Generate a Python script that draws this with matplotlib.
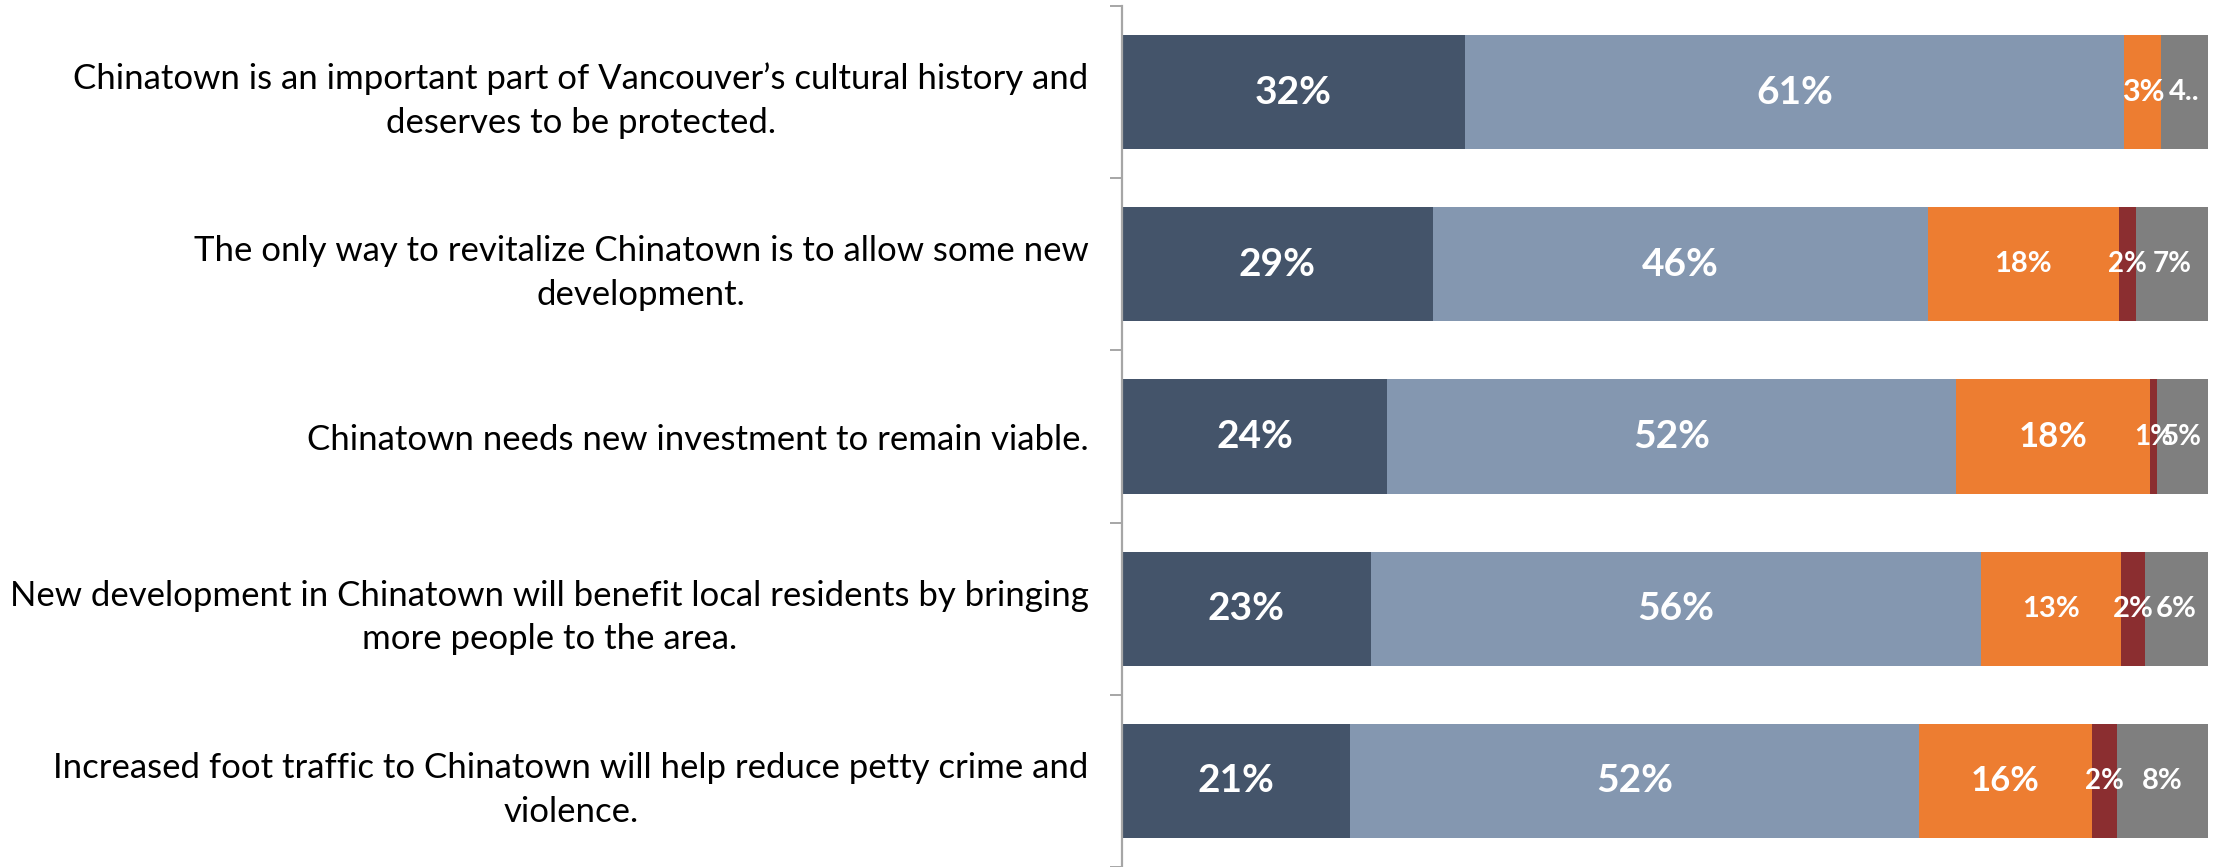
import matplotlib
matplotlib.use("Agg")
import matplotlib.pyplot as plt
import numpy as np

plt.rcParams['font.family'] = ['Lato', 'DejaVu Sans']

statements = [
    "Chinatown is an important part of Vancouver\u2019s cultural history and\ndeserves to be protected.",
    "The only way to revitalize Chinatown is to allow some new\ndevelopment.",
    "Chinatown needs new investment to remain viable.",
    "New development in Chinatown will benefit local residents by bringing\nmore people to the area.",
    "Increased foot traffic to Chinatown will help reduce petty crime and\nviolence.",
]

# shares in percent, one list per answer (top row first)
strongly_agree = [31.6, 28.6, 24.4, 22.9, 21.0]
somewhat_agree = [60.7, 45.6, 52.4, 56.2, 52.4]
somewhat_disagree = [3.4, 17.6, 17.9, 12.9, 15.9]
strongly_disagree = [0.0, 1.6, 0.6, 2.2, 2.3]
dont_know = [4.3, 6.6, 4.7, 5.8, 8.4]

series = [strongly_agree, somewhat_agree, somewhat_disagree, strongly_disagree, dont_know]
colors = ['#44546A', '#8497B0', '#ED7D31', '#8B2E30', '#7F7F7F']

# label sizes as they appear in the original (pt), per row and segment
label_sizes = [
    [28, 28, 22, 19, 21],
    [28, 28, 21, 20, 20],
    [28, 28, 25, 20, 20],
    [28, 28, 21, 21, 21],
    [28, 28, 25, 20, 21],
]

fig = plt.figure(figsize=(22.27, 8.67), dpi=100)
ax = fig.add_axes([1122 / 2227, 0.0, (2208 - 1122) / 2227, 861 / 867])

y = np.arange(len(statements))
left = np.zeros(len(statements))
for j, (vals, col) in enumerate(zip(series, colors)):
    vals = np.array(vals)
    ax.barh(y, vals, left=left, height=0.664, color=col, edgecolor='none')
    for i, v in enumerate(vals):
        if v <= 0:
            continue
        txt = f"{v:.0f}%"
        if i == 0 and j == 4:
            txt = "4.."  # truncated in the original
        ax.text(left[i] + v / 2, y[i], txt, ha='center', va='center',
                color='white', fontweight='bold', fontsize=label_sizes[i][j])
    left += vals

ax.set_xlim(0, 100)
ax.set_ylim(len(statements) - 0.5, -0.5)

ax.set_yticks(y)
ax.set_yticklabels(statements, fontsize=25, ha='right', multialignment='center',
                   linespacing=1.45)
ax.tick_params(axis='y', which='major', length=0, pad=24)
ax.set_yticks(np.arange(len(statements) + 1) - 0.5, minor=True)
ax.tick_params(axis='y', which='minor', length=9, width=1.4, color='#A6A6A6', direction='out')
ax.set_xticks([])

for s in ['top', 'right', 'bottom']:
    ax.spines[s].set_visible(False)
ax.spines['left'].set_color('#A6A6A6')
ax.spines['left'].set_linewidth(1.6)

fig.savefig("out.png", dpi=100)
